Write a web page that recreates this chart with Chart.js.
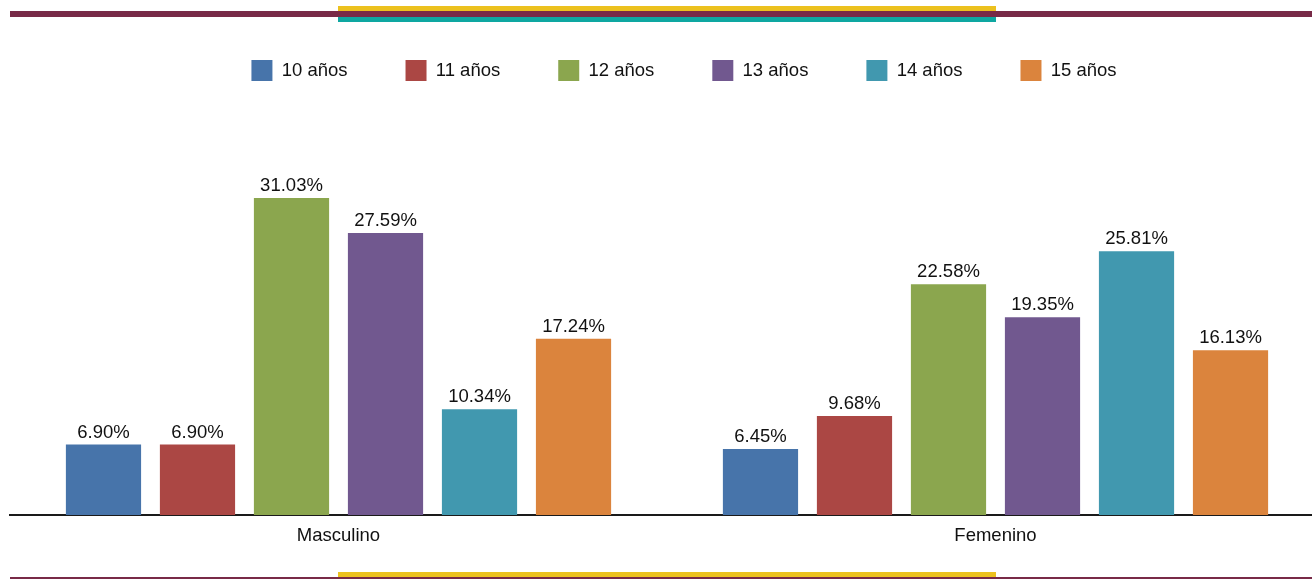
<!DOCTYPE html>
<html>
<head>
<meta charset="utf-8">
<script src="https://cdn.jsdelivr.net/npm/chart.js@4/dist/chart.umd.min.js"></script>
<style>
  html, body { margin: 0; padding: 0; background: #fff; overflow: hidden; }
  body { width: 1312px; height: 579px; position: relative; }
  .rule { position: absolute; }
  #chartBox { position: absolute; left: 0; top: 2px; width: 1358px; height: 553px; }
</style>
</head>
<body>
<!-- header and footer rules -->
<div class="rule" style="left:338px;top:6px;width:658px;height:5px;background:#ecc11e"></div>
<div class="rule" style="left:10px;top:11px;width:1302px;height:6px;background:#782a47"></div>
<div class="rule" style="left:338px;top:17px;width:658px;height:5px;background:#0ea7a1"></div>
<div class="rule" style="left:338px;top:572px;width:658px;height:5px;background:#ecc11e"></div>
<div class="rule" style="left:10px;top:577px;width:1302px;height:2px;background:#782a47"></div>

<div id="chartBox"><canvas id="edadChart"></canvas></div>

<script>
// Distribution by age within each sex (percent)

var categories = ['Masculino', 'Femenino'];
var ageLabels = ['10 años', '11 años', '12 años', '13 años', '14 años', '15 años'];

var age10 = [6.90, 6.45];
var age11 = [6.90, 9.68];
var age12 = [31.03, 22.58];
var age13 = [27.59, 19.35];
var age14 = [10.34, 25.81];
var age15 = [17.24, 16.13];

var seriesValues = [age10, age11, age12, age13, age14, age15];
var seriesColors = ['#4774aa', '#ab4744', '#8ba64e', '#71588f', '#4198af', '#db843d'];

var FONT = '"Liberation Sans", Arial, Helvetica, sans-serif';

// writes the percentage above each bar
var barValueLabels = {
  id: 'barValueLabels',
  afterDatasetsDraw: function (chart) {
    var ctx = chart.ctx;
    ctx.save();
    ctx.font = '18.5px ' + FONT;
    ctx.fillStyle = '#111';
    ctx.textAlign = 'center';
    ctx.textBaseline = 'alphabetic';
    chart.data.datasets.forEach(function (ds, i) {
      var meta = chart.getDatasetMeta(i);
      meta.data.forEach(function (bar, j) {
        ctx.fillText(ds.data[j].toFixed(2) + '%', bar.x, bar.y - 7);
      });
    });
    ctx.restore();
  }
};

function buildDatasets() {
  var list = [];
  for (var i = 0; i < ageLabels.length; i++) {
    list.push({
      label: ageLabels[i],
      data: seriesValues[i],
      backgroundColor: seriesColors[i],
      borderWidth: 0,
      categoryPercentage: 0.8585,
      barPercentage: 0.8
    });
  }
  return list;
}

function renderChart() {
  var ctx = document.getElementById('edadChart').getContext('2d');
  var config = {
    type: 'bar',
    data: { labels: categories, datasets: buildDatasets() },
    options: {
      responsive: true,
      maintainAspectRatio: false,
      animation: false,
      layout: { padding: { left: 10, right: 0, top: 0, bottom: 0 } },
      plugins: {
        tooltip: { enabled: false },
        legend: {
          position: 'top',
          labels: {
            boxWidth: 21,
            boxHeight: 21,
            padding: 58,
            color: '#111',
            font: { family: FONT, size: 18.5 }
          }
        }
      },
      scales: {
        x: {
          grid: { display: false },
          border: { display: true, color: '#1a1a1a', width: 2 },
          ticks: { color: '#111', padding: 2, font: { family: FONT, size: 18.5 } },
          afterFit: function (scale) { scale.height = 40; }
        },
        y: {
          position: 'right',
          min: 0,
          max: 41.5,
          grid: { display: false },
          border: { display: false },
          ticks: { display: false },
          afterFit: function (scale) { scale.width = 34; }
        }
      }
    },
    plugins: [barValueLabels]
  };
  return new Chart(ctx, config);
}

document.addEventListener('DOMContentLoaded', renderChart);
</script>
</body>
</html>
